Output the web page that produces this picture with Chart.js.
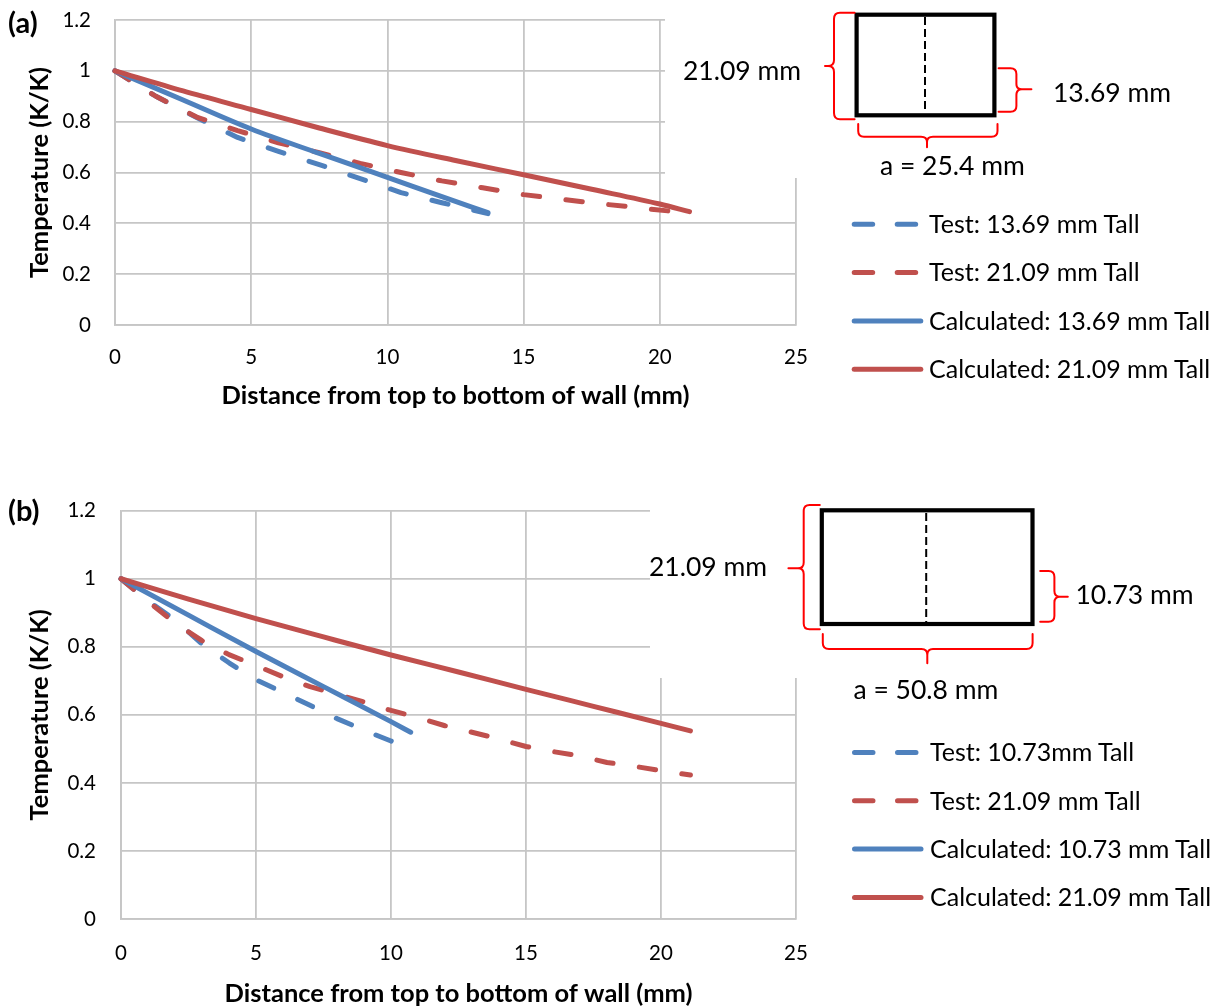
<!DOCTYPE html>
<html>
<head>
<meta charset="utf-8">
<title>Temperature along wall</title>
<script src="https://cdn.jsdelivr.net/npm/chart.js@4.4.1/dist/chart.umd.min.js"></script>
<style>
  html, body { margin:0; padding:0; background:#fff; }
  body { width:1217px; height:1008px; position:relative; overflow:hidden; font-family: Lato, 'Open Sans', sans-serif; color:#000; }
  canvas { display:block; }
  .cw { position:absolute; left:0; }
  #cwA { top:0; width:830px; height:420px; }
  #cwB { top:490px; width:830px; height:518px; }
  #overlay { position:absolute; left:0; top:0; width:1217px; height:1008px; pointer-events:none; }
  .t { position:absolute; white-space:nowrap; line-height:1; font-size:26.5px; color:#000; }
  .lg { position:absolute; white-space:nowrap; line-height:1; font-size:25px; color:#000; }
  .panel { position:absolute; white-space:nowrap; line-height:1; font-weight:bold; font-size:29px; color:#000; }
</style>
</head>
<body>
<div class="cw" id="cwA"><canvas id="chartA" width="830" height="420"></canvas></div>
<div class="cw" id="cwB"><canvas id="chartB" width="830" height="518"></canvas></div>

<svg id="overlay" xmlns="http://www.w3.org/2000/svg" width="1217" height="1008" viewBox="0 0 1217 1008">
  <!-- white picture areas that sit on top of the plot grid, as in the original -->
  <rect x="665" y="0" width="552" height="178" fill="#fff"/>
  <rect x="650" y="495" width="567" height="183" fill="#fff"/>
  <!-- diagram (a) -->
  <rect x="856.6" y="14.7" width="137.8" height="100.6" fill="none" stroke="#000" stroke-width="4.2"/>
  <line x1="925" y1="17" x2="925" y2="112" stroke="#000" stroke-width="2" stroke-dasharray="8 4"/>
  <g fill="none" stroke="#ff0000" stroke-width="2" stroke-linecap="round" stroke-linejoin="round">
    <path d="M 854.6 12.7 L 840 12.7 Q 834 12.7 834 19 L 834 60 Q 834 66 828 66 L 825 66 M 828 66 Q 834 66 834 72 L 834 113 Q 834 119.3 840 119.3 L 854.6 119.3"/>
    <path d="M 998.6 68.3 L 1010.5 68.3 Q 1016.4 68.3 1016.4 74 L 1016.4 84 Q 1016.4 89.3 1022 89.3 L 1031.4 89.3 M 1022 89.3 Q 1016.4 89.3 1016.4 95 L 1016.4 106 Q 1016.4 111.7 1010.5 111.7 L 998.6 111.7"/>
    <path d="M 858.2 124 L 858.2 131 Q 858.2 136.7 864 136.7 L 921 136.7 Q 927 136.7 927 142 L 927 147.3 M 927 142 Q 927 136.7 933 136.7 L 991.5 136.7 Q 997.5 136.7 997.5 131 L 997.5 124"/>
  </g>
  <!-- diagram (b) -->
  <rect x="821.8" y="510.3" width="210.7" height="113.7" fill="none" stroke="#000" stroke-width="4.2"/>
  <line x1="926.2" y1="513" x2="926.2" y2="622" stroke="#000" stroke-width="2" stroke-dasharray="8 4"/>
  <g fill="none" stroke="#ff0000" stroke-width="2" stroke-linecap="round" stroke-linejoin="round">
    <path d="M 819.8 505 L 809.5 505 Q 803.7 505 803.7 511 L 803.7 562.5 Q 803.7 568.3 798 568.3 L 788.4 568.3 M 798 568.3 Q 803.7 568.3 803.7 574 L 803.7 623.5 Q 803.7 629.3 809.5 629.3 L 819.8 629.3"/>
    <path d="M 1040.2 571 L 1048.5 571 Q 1054.4 571 1054.4 577 L 1054.4 591 Q 1054.4 596.7 1060 596.7 L 1067.8 596.7 M 1060 596.7 Q 1054.4 596.7 1054.4 602.5 L 1054.4 616 Q 1054.4 621.7 1048.5 621.7 L 1040.2 621.7"/>
    <path d="M 822.8 634 L 822.8 643 Q 822.8 649 829 649 L 921.5 649 Q 927.3 649 927.3 655 L 927.3 663.3 M 927.3 655 Q 927.3 649 933 649 L 1026.5 649 Q 1032.6 649 1032.6 643 L 1032.6 634"/>
  </g>
  <g id="legendSamples"></g>
</svg>

<div class="panel" style="left:8px;top:6.7px;">(a)</div>
<div class="panel" style="left:8px;top:495px;">(b)</div>
<div class="t" style="left:683px;top:56.7px;">21.09 mm</div>
<div class="t" style="left:1053px;top:79.3px;">13.69 mm</div>
<div class="t" style="left:880px;top:152px;">a = 25.4 mm</div>
<div class="t" style="left:649px;top:553.3px;">21.09 mm</div>
<div class="t" style="left:1075.5px;top:581px;">10.73 mm</div>
<div class="t" style="left:853.5px;top:676px;">a = 50.8 mm</div>
<div id="legendTexts"></div>

<script>
// ---------------- data ----------------
const xTicks = [0, 5, 10, 15, 20, 25];
const xTickLabels = ['0', '5', '10', '15', '20', '25'];
const yTicks = [0, 0.2, 0.4, 0.6, 0.8, 1, 1.2];
const yTickLabels = ['0', '0.2', '0.4', '0.6', '0.8', '1', '1.2'];

const xTitle = 'Distance from top to bottom of wall (mm)';
const yTitle = 'Temperature (K/K)';

// Panel (a)
const aLabels = ['Test: 13.69 mm Tall', 'Test: 21.09 mm Tall', 'Calculated: 13.69 mm Tall', 'Calculated: 21.09 mm Tall'];
const aTest1369X = [0, 1.5, 3, 4.5, 6, 7.5, 9, 10.5, 12, 13.69];
const aTest1369Y = [1, 0.90, 0.816, 0.738, 0.683, 0.631, 0.576, 0.521, 0.481, 0.438];
const aTest2109X = [0, 1.5, 3, 4.5, 6, 7.5, 9, 10.5, 12, 13.5, 15, 16.5, 18, 19.5, 21.09];
const aTest2109Y = [1, 0.90, 0.818, 0.765, 0.717, 0.678, 0.636, 0.600, 0.567, 0.540, 0.513, 0.493, 0.475, 0.458, 0.440];
const aCalc1369X = [0, 2.5, 5, 7.5, 10, 12, 13.69];
const aCalc1369Y = [1, 0.885, 0.771, 0.675, 0.581, 0.505, 0.442];
const aCalc2109X = [0, 2.5, 5, 7.5, 10, 12.5, 15, 17.5, 20, 21.09];
const aCalc2109Y = [1, 0.921, 0.848, 0.775, 0.706, 0.647, 0.591, 0.534, 0.476, 0.446];

// Panel (b)
const bLabels = ['Test: 10.73mm Tall', 'Test: 21.09 mm Tall', 'Calculated: 10.73 mm Tall', 'Calculated: 21.09 mm Tall'];
const bTest1073X = [0, 1, 2, 3, 4, 5, 6, 7, 8, 9, 10, 10.73];
const bTest1073Y = [1, 0.935, 0.879, 0.808, 0.753, 0.703, 0.666, 0.628, 0.589, 0.555, 0.523, 0.499];
const bTest2109X = [0, 1, 2, 3, 4, 5, 6, 7, 8, 9, 10, 11, 12, 13, 14, 15, 16, 17, 18, 19, 20, 21.09];
const bTest2109Y = [1, 0.933, 0.870, 0.818, 0.777, 0.745, 0.712, 0.683, 0.660, 0.638, 0.613, 0.592, 0.568, 0.549, 0.529, 0.507, 0.492, 0.479, 0.460, 0.449, 0.436, 0.423];
const bCalc1073X = [0, 2.5, 5, 7.5, 10, 10.73];
const bCalc1073Y = [1, 0.893, 0.786, 0.683, 0.580, 0.549];
const bCalc2109X = [0, 2.5, 5, 7.5, 10, 12.5, 15, 17.5, 20, 21.09];
const bCalc2109Y = [1, 0.940, 0.883, 0.829, 0.776, 0.726, 0.675, 0.625, 0.575, 0.553];

// ---------------- styles ----------------
const BLUE = '#4F81BD';
const RED = '#C0504D';
const GRID = '#c6c6c6';
const FONT = 'Lato, "Open Sans", sans-serif';
const DASH = [16.5, 26.5];

function pts(xs, ys) { return xs.map((x, i) => ({ x: x, y: ys[i] })); }

function series(label, xs, ys, color, dashed, order) {
  return {
    label: label,
    data: pts(xs, ys),
    borderColor: color,
    backgroundColor: color,
    borderWidth: 5,
    borderDash: dashed ? DASH : [],
    borderCapStyle: 'round',
    borderJoinStyle: 'round',
    pointRadius: 0,
    pointHoverRadius: 0,
    fill: false,
    tension: 0,
    cubicInterpolationMode: dashed ? 'default' : 'monotone',
    showLine: true,
    clip: 4,
    order: order
  };
}

function makeChart(id, datasets, g) {
  return new Chart(document.getElementById(id), {
    type: 'line',
    data: { datasets: datasets },
    options: {
      responsive: false,
      animation: false,
      devicePixelRatio: 1,
      events: [],
      layout: { padding: { left: 0, top: g.top, right: g.right, bottom: 0 } },
      plugins: { legend: { display: false }, tooltip: { enabled: false }, title: { display: false } },
      scales: {
        x: {
          type: 'linear', position: 'bottom', min: 0, max: 25,
          afterBuildTicks: s => { s.ticks = xTicks.map(v => ({ value: v })); },
          afterFit: s => { s.height = g.xHeight; },
          ticks: {
            autoSkip: false, maxRotation: 0, padding: g.xTickPad, color: '#000',
            font: { family: FONT, size: 20.5 },
            callback: (v, i) => xTickLabels[i]
          },
          grid: { color: GRID, lineWidth: 1.8, drawTicks: false },
          border: { display: true, color: GRID, width: 1.8 },
          title: {
            display: true, text: xTitle, color: '#000',
            font: { family: FONT, size: 25.5, weight: 'bold', lineHeight: 1 },
            padding: { top: 0, bottom: g.xTitlePad }
          }
        },
        y: {
          type: 'linear', position: 'left', min: 0, max: 1.2,
          afterBuildTicks: s => { s.ticks = yTicks.map(v => ({ value: v })); },
          afterFit: s => { s.width = g.yWidth; s.paddingTop = 0; s.paddingBottom = 0; },
          ticks: {
            autoSkip: false, padding: g.yTickPad, color: '#000',
            font: { family: FONT, size: 20.5 },
            callback: (v, i) => yTickLabels[i]
          },
          grid: { color: GRID, lineWidth: 1.8, drawTicks: false },
          border: { display: true, color: GRID, width: 1.8 },
          title: {
            display: true, text: yTitle, color: '#000',
            font: { family: FONT, size: 25.5, weight: 'bold', lineHeight: 1 },
            padding: { top: 27.25, bottom: 0 }
          }
        }
      }
    }
  });
}

function buildLegend(chart, rowY, sampleX1, sampleX2, textX) {
  const svgNS = 'http://www.w3.org/2000/svg';
  const g = document.getElementById('legendSamples');
  const box = document.getElementById('legendTexts');
  chart.data.datasets.forEach((ds, i) => {
    const y = rowY[i];
    const ln = document.createElementNS(svgNS, 'line');
    ln.setAttribute('x1', sampleX1 + 2.5);
    ln.setAttribute('x2', sampleX2 - 2.5);
    ln.setAttribute('y1', y);
    ln.setAttribute('y2', y);
    ln.setAttribute('stroke', ds.borderColor);
    ln.setAttribute('stroke-width', 5);
    ln.setAttribute('stroke-linecap', 'round');
    if (ds.borderDash && ds.borderDash.length) ln.setAttribute('stroke-dasharray', '18.5 24.5');
    g.appendChild(ln);
    const d = document.createElement('div');
    d.className = 'lg';
    d.textContent = ds.label;
    d.style.left = textX + 'px';
    d.style.top = (y - 0.529 * 25) + 'px';
    box.appendChild(d);
  });
}

function build() {
  const chartA = makeChart('chartA', [
    series(aLabels[0], aTest1369X, aTest1369Y, BLUE, true, 3),
    series(aLabels[1], aTest2109X, aTest2109Y, RED, true, 2),
    series(aLabels[2], aCalc1369X, aCalc1369Y, BLUE, false, 1),
    series(aLabels[3], aCalc2109X, aCalc2109Y, RED, false, 0)
  ], { top: 20, right: 34, xHeight: 95, yWidth: 115, xTickPad: 20, yTickPad: 24, xTitlePad: 11.25 });

  const chartB = makeChart('chartB', [
    series(bLabels[0], bTest1073X, bTest1073Y, BLUE, true, 3),
    series(bLabels[1], bTest2109X, bTest2109Y, RED, true, 2),
    series(bLabels[2], bCalc1073X, bCalc1073Y, BLUE, false, 1),
    series(bLabels[3], bCalc2109X, bCalc2109Y, RED, false, 0)
  ], { top: 20.7, right: 34, xHeight: 89, yWidth: 121, xTickPad: 21.7, yTickPad: 25, xTitlePad: 1.25 });

  buildLegend(chartA, [224.3, 272.6, 320.9, 369.2], 851.7, 923.3, 929);
  buildLegend(chartB, [752.5, 800.8, 849.1, 897.4], 852, 923.5, 930);
}

let built = false;
function go() { if (!built) { built = true; build(); } }
Promise.race([
  Promise.all([document.fonts.load('20px Lato'), document.fonts.load('bold 20px Lato')]),
  new Promise(r => setTimeout(r, 400))
]).then(go, go);
</script>
</body>
</html>
